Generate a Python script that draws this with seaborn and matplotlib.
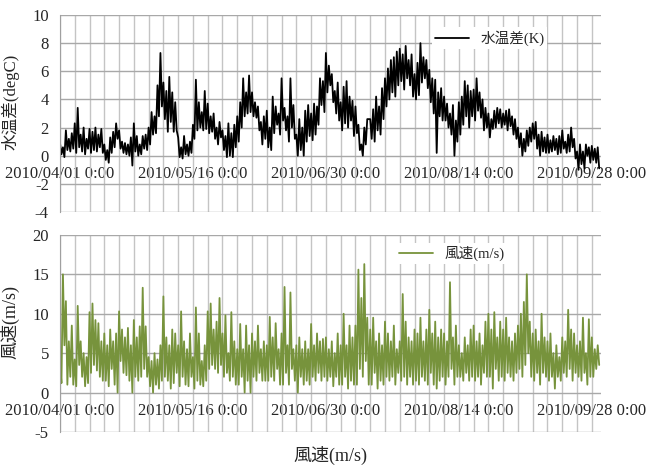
import pandas as pd
import matplotlib
matplotlib.use('Agg')
import matplotlib.pyplot as plt
import seaborn as sns

# readings, two per day (0:00 / 12:00), 2010/04/01 - 2010/09/30
temp_diff = [
    0.9, 0.1, 0.6, -0.1, 1.8, 0.4, 1.2, 0.3, 1.6, 0.5,
    2.3, 0.2, 3.4, 0.6, 1.5, 0.3, 2.0, 0.1, 1.2, 0.5,
    1.9, 0.2, 1.7, 0.4, 2.0, 0.3, 1.5, 0.6, 1.9, 0.2,
    0.8, -0.3, 0.4, -0.5, 1.3, 0.2, 1.7, 0.6, 2.3, 1.2,
    1.8, 0.5, 1.0, 0.2, 0.9, 0.1, 0.8, 0.0, 1.3, -0.7,
    2.3, 0.3, 1.4, 0.0, 0.8, 0.1, 1.4, 0.5, 1.5, 0.4,
    2.0, 0.8, 3.1, 1.5, 2.8, 1.6, 5.0, 2.8, 7.3, 3.5,
    5.2, 2.6, 4.6, 1.7, 5.6, 2.4, 4.5, 1.7, 3.8, 1.8,
    1.3, -0.1, 0.6, -0.2, 1.4, 0.1, 0.8, 0.0, 1.0, 0.2,
    2.2, 1.2, 5.4, 1.8, 3.8, 2.0, 3.1, 1.8, 4.6, 1.9,
    3.7, 1.6, 2.8, 1.7, 3.0, 1.2, 2.0, 0.8, 2.4, 1.3,
    1.8, 0.4, 1.4, -0.1, 2.3, 0.0, 1.6, -0.1, 2.2, 0.6,
    2.8, 1.0, 3.8, 2.0, 5.5, 2.8, 4.5, 3.0, 5.7, 3.1,
    4.5, 2.8, 3.8, 2.7, 3.5, 1.8, 2.4, 0.8, 2.8, 1.2,
    3.2, 0.6, 2.0, 0.4, 4.2, 1.6, 3.5, 2.2, 3.0, 1.5,
    5.5, 2.5, 3.4, 1.8, 2.8, 1.0, 5.5, 2.0, 3.6, 1.2,
    1.5, 0.0, 2.6, 0.4, 2.0, 0.0, 3.2, 1.0, 3.6, 1.4,
    3.0, 1.1, 3.7, 1.5, 3.5, 2.2, 5.5, 3.6, 5.3, 3.1,
    7.3, 4.5, 6.4, 5.0, 5.8, 3.8, 4.6, 3.0, 5.2, 2.5,
    3.8, 1.8, 4.9, 2.3, 5.3, 2.0, 4.2, 2.5, 3.9, 1.4,
    3.5, 1.6, 2.2, 0.4, 0.8, 0.0, 2.0, 0.8, 2.6, 2.6,
    2.6, 1.2, 3.3, 1.0, 4.2, 1.8, 3.5, 1.5, 4.8, 2.6,
    5.5, 3.5, 6.2, 4.0, 6.8, 4.5, 7.0, 4.2, 7.4, 5.0,
    7.6, 5.3, 7.2, 4.7, 7.8, 5.5, 6.8, 5.0, 7.2, 4.2,
    5.8, 4.0, 6.6, 4.3, 8.0, 5.2, 7.0, 5.5, 6.8, 4.8,
    6.1, 3.8, 5.5, 3.0, 5.4, 0.2, 4.5, 2.8, 4.8, 2.5,
    4.2, 2.5, 3.7, 2.0, 3.0, 1.5, 3.6, 0.0, 2.5, 1.0,
    3.8, 1.5, 4.2, 2.2, 5.3, 2.8, 5.0, 2.0, 4.6, 2.8,
    4.7, 2.5, 5.5, 3.2, 4.5, 2.7, 4.0, 1.8, 3.4, 2.0,
    3.0, 1.3, 2.6, 1.9, 3.2, 2.0, 3.4, 2.3, 3.3, 2.0,
    3.0, 2.2, 3.2, 1.8, 3.3, 2.1, 2.8, 1.5, 2.6, 1.2,
    2.0, 0.6, 1.6, 0.0, 1.2, 0.3, 1.8, 0.7, 2.0, 1.0,
    2.3, 1.2, 2.4, 0.5, 1.5, 0.0, 1.7, 0.3, 1.3, 0.2,
    1.5, 0.2, 1.1, 0.3, 1.4, 0.4, 1.2, 0.1, 1.4, 0.2,
    1.8, 0.5, 1.0, 0.2, 1.5, 0.3, 2.0, 0.6, 1.2, -0.2,
    0.3, -1.0, 0.8, -0.6, 0.3, -0.9, 0.8, 0.0, 0.6, -0.5,
    0.7, -0.3, 0.5, -0.5, 0.6, -0.9,
]

wind_speed = [
    4.0, 1.2, 15.0, 6.0, 11.6, 1.0, 6.5, 2.0, 8.5, 1.0,
    4.2, 0.8, 11.0, 3.5, 6.5, 2.0, 5.0, 0.8, 4.5, 1.2,
    10.2, 2.5, 11.3, 3.5, 9.2, 2.8, 8.8, 2.0, 6.5, 1.5,
    7.5, 1.5, 6.0, 0.8, 8.0, 3.0, 6.5, 1.0, 7.5, 0.0,
    10.3, 4.0, 8.0, 2.5, 7.0, 2.2, 8.2, 1.5, 6.0, 0.0,
    9.2, 2.0, 7.0, 1.5, 8.4, 2.0, 13.3, 3.0, 8.4, 2.0,
    4.5, 0.8, 4.0, 0.0, 5.0, 1.0, 4.2, 0.5, 6.0, 1.5,
    12.2, 2.0, 7.0, 1.5, 6.0, 0.5, 8.0, 1.2, 7.5, 2.5,
    6.0, 0.8, 10.3, 2.0, 6.5, 1.0, 5.5, 0.8, 7.5, 2.0,
    4.5, 0.5, 10.8, 1.5, 7.5, 1.0, 4.0, 0.8, 6.0, 1.5,
    10.3, 3.0, 11.3, 3.5, 8.0, 3.0, 9.0, 2.5, 12.0, 3.5,
    7.5, 2.0, 9.8, 2.5, 5.0, 1.5, 10.2, 2.0, 6.5, 1.0,
    5.5, 1.0, 8.7, 2.0, 5.5, 0.0, 8.5, 1.5, 6.0, 0.0,
    7.5, 2.0, 6.5, 1.5, 8.5, 2.5, 5.5, 1.5, 6.5, 1.5,
    6.0, 1.5, 9.6, 2.0, 7.0, 1.5, 8.8, 3.0, 5.5, 1.0,
    7.5, 1.0, 13.4, 2.5, 6.0, 1.0, 12.7, 3.0, 5.5, 1.5,
    6.0, 0.0, 7.0, 2.0, 5.5, 1.0, 6.5, 1.5, 5.5, 1.0,
    8.7, 2.0, 6.0, 1.5, 7.5, 2.5, 6.5, 1.5, 6.8, 2.0,
    7.0, 1.5, 5.5, 2.0, 6.5, 0.8, 5.0, 2.0, 7.5, 1.0,
    6.0, 1.0, 10.0, 2.0, 6.0, 0.5, 8.5, 1.5, 7.0, 1.0,
    8.5, 1.0, 15.6, 3.0, 12.0, 2.0, 16.3, 4.0, 9.5, 1.0,
    8.0, 1.0, 9.5, 2.5, 6.5, 0.5, 7.5, 1.5, 6.0, 1.0,
    9.0, 2.0, 7.5, 1.5, 6.5, 2.0, 8.5, 1.0, 5.5, 2.5,
    6.5, 1.5, 12.5, 2.0, 9.0, 1.0, 7.0, 2.0, 6.5, 1.0,
    8.0, 1.5, 7.5, 1.0, 9.5, 2.0, 6.5, 1.5, 8.0, 1.0,
    10.5, 2.5, 7.5, 1.0, 9.0, 0.5, 7.0, 1.5, 8.0, 2.0,
    7.5, 1.0, 6.5, 2.0, 14.0, 3.0, 7.0, 1.0, 8.5, 2.0,
    6.0, 2.0, 5.0, 1.5, 7.0, 2.5, 6.0, 1.5, 8.0, 2.0,
    8.5, 1.5, 6.5, 2.0, 7.5, 1.0, 6.0, 2.5, 9.0, 2.0,
    10.0, 2.0, 8.0, 0.5, 10.2, 3.0, 7.0, 1.5, 9.0, 2.0,
    8.0, 1.5, 9.5, 2.5, 7.0, 2.0, 6.5, 1.5, 7.5, 2.5,
    8.5, 3.0, 10.0, 2.0, 11.5, 3.5, 15.0, 5.0, 9.0, 2.0,
    7.5, 1.5, 8.0, 2.5, 6.5, 1.0, 10.0, 2.5, 7.0, 2.0,
    6.5, 1.5, 7.5, 2.0, 5.0, 0.5, 6.0, 2.0, 4.5, 1.5,
    7.0, 2.5, 6.5, 2.0, 10.5, 3.0, 8.0, 1.5, 7.5, 2.5,
    6.0, 2.0, 6.5, 1.5, 9.5, 2.5, 5.0, 1.0, 9.3, 2.0,
    7.0, 2.0, 5.5, 3.0, 6.0, 3.5,
]

tick_dates = ['2010-04-01', '2010-05-16', '2010-06-30', '2010-08-14', '2010-09-28']
tick_labels = ['2010/04/01 0:00', '2010/05/16 0:00', '2010/06/30 0:00',
               '2010/08/14 0:00', '2010/09/28 0:00']

times = pd.date_range('2010-04-01', periods=len(temp_diff), freq='12h')
df = pd.DataFrame({'time': times, 'temp': temp_diff, 'wind': wind_speed})

sns.set_style('white')
plt.rcParams['font.family'] = ['Liberation Serif', 'Noto Sans CJK JP']
plt.rcParams['axes.unicode_minus'] = False

fig = plt.figure(figsize=(6.47, 4.68), dpi=100)
ax1 = fig.add_axes([0.0927, 0.547, 0.8357, 0.421])
ax2 = fig.add_axes([0.0927, 0.077, 0.8357, 0.421])

sns.lineplot(df, x='time', y='temp', color='black', lw=1.3, label='水温差(K)', ax=ax1)
sns.lineplot(df, x='time', y='wind', color='#77933C', lw=1.3, label='風速(m/s)', ax=ax2)

minor = pd.date_range('2010-04-01', '2010-09-30', freq='5D')
setup = [(ax1, (-4, 10), range(-4, 11, 2), (0.795, 0.883)),
         (ax2, (-5, 20), range(-5, 21, 5), (0.725, 0.904))]
for ax, ylim, yt, leg in setup:
    ax.set_xlim(pd.Timestamp('2010-04-01'), pd.Timestamp('2010-10-01'))
    ax.set_ylim(*ylim)
    ax.set_yticks(list(yt))
    ax.set_xticks(pd.to_datetime(tick_dates))
    ax.set_xticklabels(tick_labels)
    ax.set_xticks(minor, minor=True)
    ax.grid(True, axis='x', which='both', color='#c4c4c4', lw=1.0)
    ax.grid(True, axis='y', color='#a8a8a8', lw=1.0)
    ax.set_axisbelow(True)
    ax.tick_params(length=0, labelsize=12)
    ax.tick_params(axis='x', which='both', length=0, pad=7.5)
    ax.tick_params(axis='y', pad=8)
    for s in ['top', 'right']:
        ax.spines[s].set_visible(False)
    ax.spines['left'].set_color('#a0a0a0')
    ax.spines['bottom'].set_position(('data', 0))
    ax.spines['bottom'].set_color('none')
    ax.set_xlabel('')
    ax.legend(loc='center', bbox_to_anchor=leg, frameon=True, fancybox=False,
              edgecolor='none', facecolor='white', framealpha=1,
              fontsize=10.5, handlelength=2.3, borderpad=0.2)

ax1.set_ylabel('水温差(degC)', fontsize=12)
ax1.yaxis.set_label_coords(-0.075, 0.56)
ax2.set_ylabel('風速(m/s)', fontsize=13)
ax2.yaxis.set_label_coords(-0.075, 0.56)
fig.text(0.51, 1 - 455 / 468, '風速(m/s)', ha='center', va='center', fontsize=13)

fig.savefig('out.png', dpi=100)
